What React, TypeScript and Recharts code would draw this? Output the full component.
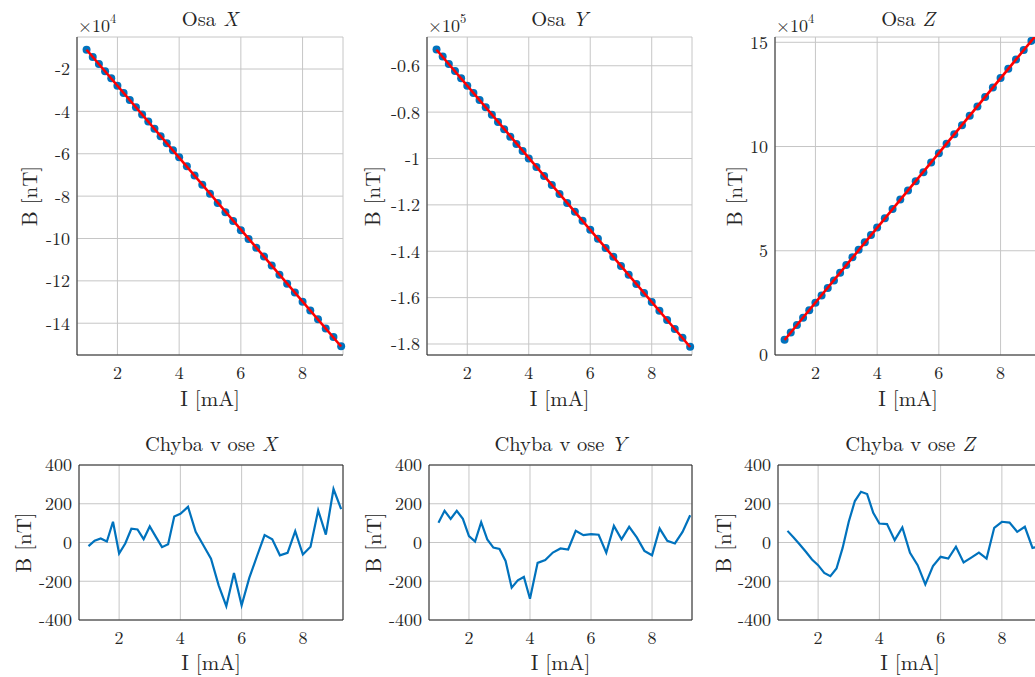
import { CartesianGrid, ComposedChart, Line, LineChart, ReferenceLine, Scatter, XAxis, YAxis } from "recharts";

const MODRA = "#0072BD";
const CERVENA = "#FF0000";
const OSY = "#262626";
const MRIZKA = "#c6c6c6";
const PISMO = "'Latin Modern Roman', 'Liberation Serif', serif";

// proud cievkou [mA]
const proud = [
  1, 1.2, 1.4, 1.6, 1.8, 2, 2.2, 2.4, 2.6, 2.8, 3, 3.2, 3.4, 3.6, 3.8, 4,
  4.25, 4.5, 4.75, 5, 5.25, 5.5, 5.75, 6, 6.25, 6.5, 6.75, 7, 7.25, 7.5, 7.75, 8,
  8.25, 8.5, 8.75, 9, 9.25,
];

// namerane pole [nT]
const mereniX = [
  -10919, -14287, -17671, -21083, -24377, -27937, -31281, -34601, -38001, -41447,
  -44777, -48227, -51676, -55057, -58310, -61692, -65901, -70275, -74589, -78903,
  -83286, -87639, -91712, -96124, -100228, -104361, -108497, -112763, -117091, -121323,
  -125456, -129822, -134027, -138084, -142454, -146464, -150813,
];
const mereniY = [
  -52998, -56044, -59194, -62259, -65409, -68606, -71742, -74750, -77946, -81096,
  -84211, -87381, -90627, -93696, -96787, -100007, -103707, -107578, -111423, -115287,
  -119177, -122966, -126872, -130752, -134640, -138618, -142363, -146318, -150138, -154078,
  -158031, -161939, -165686, -169634, -173532, -177357, -181156,
];
const mereniZ = [
  7260, 10814, 14365, 17915, 21462, 25021, 28568, 32139, 35766, 39460,
  43182, 46877, 50512, 54088, 57578, 61111, 65592, 69993, 74544, 78897,
  83317, 87703, 92281, 96814, 101289, 105834, 110238, 114747, 119257, 123711,
  128354, 132870, 137350, 141786, 146297, 150672, 155164,
];

// linearny fit (koncove body)
const fitProud = [1, 9.25];
const fitX = [-10900, -150985];
const fitY = [-53100, -181297];
const fitZ = [7200, 155184];

// chyba merania voci fitu [nT]
const chybaX = [
  -19, 9, 21, 5, 107, -57, -5, 71, 67, 17, 83, 29, -24, -9, 134, 148, 184, 55, -14, -83,
  -221, -329, -157, -324, -183, -71, 38, 17, -66, -53, 59, -62, -22, 166, 41, 276, 172,
];
const chybaY = [
  102, 164, 122, 164, 122, 33, 5, 105, 16, -26, -33, -95, -233, -195, -178, -290, -105, -91, -52, -31,
  -36, 60, 38, 43, 40, -53, 86, 16, 81, 26, -43, -66, 72, 9, -5, 55, 141,
];
const chybaZ = [
  60, 26, -10, -48, -88, -117, -157, -174, -134, -28, 107, 214, 262, 250, 153, 98, 95, 12, 78, -53,
  -117, -216, -122, -74, -83, -22, -103, -78, -52, -83, 76, 107, 103, 55, 81, -28, -20,
];

const rozsahI = [0.69, 9.31];
const tickyI = [2, 4, 6, 8];
const tickyX = [-140000, -120000, -100000, -80000, -60000, -40000, -20000];
const tickyY = [-180000, -160000, -140000, -120000, -100000, -80000, -60000];
const tickyZ = [0, 50000, 100000, 150000];
const tickyChyba = [-400, -200, 0, 200, 400];

type Ramec = { L: number; T: number; R: number; B: number };
type Bod = { x: number; y: number };

const tickStyl = { fill: OSY, fontSize: 18, fontFamily: PISMO };

function body(xs: number[], ys: number[]) {
  return xs.map((x, i) => ({ x, y: ys[i] }));
}

function format(delitel: number) {
  return (v: number) => String(Number((v / delitel).toFixed(2)));
}

const okraj = { top: 40, right: 10, left: 0, bottom: 0 };
const stredPoloha = (r: Ramec) => ({ position: "absolute" as const, left: r.L - 80, top: r.T - 40 });

function Mereni({ r, data, fit, domena, ticky, delitel }: {
  r: Ramec; data: Bod[]; fit: Bod[]; domena: number[]; ticky: number[]; delitel: number;
}) {
  const w = r.R - r.L + 90;
  const h = r.B - r.T + 100;
  return (
    <>
      <div style={stredPoloha(r)}>
        <ComposedChart width={w} height={h} margin={okraj}>
          <CartesianGrid stroke={MRIZKA} />
          <XAxis type="number" dataKey="x" domain={rozsahI} ticks={tickyI} height={60}
            axisLine={{ stroke: OSY }} tickLine={false} tickSize={0} tickMargin={11} tick={tickStyl} />
          <YAxis type="number" domain={domena} ticks={ticky} width={80} allowDataOverflow
            axisLine={{ stroke: OSY }} tickLine={false} tickSize={0} tickMargin={7} tick={tickStyl}
            tickFormatter={format(delitel)} />
          <Scatter data={data} dataKey="y" fill={MODRA} isAnimationActive={false}
            shape={(p: any) => <circle cx={p.cx} cy={p.cy} r={4} fill={MODRA} />} />
        </ComposedChart>
      </div>
      {/* fit cez body: samostatna vrstva nad znackami, rovnake osi */}
      <div style={stredPoloha(r)}>
        <ComposedChart width={w} height={h} margin={okraj}>
          <XAxis type="number" dataKey="x" domain={rozsahI} ticks={tickyI} height={60} axisLine={false} tickLine={false} tick={false} />
          <YAxis type="number" domain={domena} ticks={ticky} width={80} allowDataOverflow axisLine={false} tickLine={false} tick={false} />
          <Line data={fit} dataKey="y" type="linear" stroke={CERVENA} strokeWidth={2.6} dot={false} isAnimationActive={false} />
        </ComposedChart>
      </div>
    </>
  );
}

function Chyba({ r, data }: { r: Ramec; data: Bod[] }) {
  return (
    <div style={stredPoloha(r)}>
      <LineChart data={data} width={r.R - r.L + 90} height={r.B - r.T + 100} margin={okraj}>
        <CartesianGrid stroke={MRIZKA} />
        <XAxis type="number" dataKey="x" domain={rozsahI} ticks={tickyI} height={60}
          axisLine={{ stroke: OSY }} tickLine={false} tickSize={0} tickMargin={11} tick={tickStyl} />
        <YAxis type="number" domain={[-400, 400]} ticks={tickyChyba} width={80}
          axisLine={{ stroke: OSY }} tickLine={false} tickSize={0} tickMargin={7} tick={tickStyl} />
        <ReferenceLine y={400} stroke={OSY} />
        <ReferenceLine x={rozsahI[1]} stroke={OSY} />
        <Line dataKey="y" type="linear" stroke={MODRA} strokeWidth={2.2} dot={false} isAnimationActive={false} />
      </LineChart>
    </div>
  );
}

const horne: Ramec[] = [
  { L: 77, T: 37, R: 343, B: 355 },
  { L: 427, T: 37, R: 692, B: 355 },
  { L: 775, T: 37, R: 1041, B: 355 },
];
const dolne: Ramec[] = [
  { L: 79, T: 465, R: 343, B: 620 },
  { L: 429, T: 465, R: 692, B: 620 },
  { L: 778, T: 465, R: 1042, B: 620 },
];
const osi = ["X", "Y", "Z"];
const exponenty = ["4", "5", "4"];
const popisYHore = [37, 380, 742];
const popisYDole = [31, 381, 731];

export default function App() {
  const nadpis = { fill: OSY, fontFamily: PISMO, fontSize: 20.5 };
  const popis = { fill: OSY, fontFamily: PISMO, fontSize: 21 };
  return (
    <div style={{ position: "fixed", left: 0, top: 0, width: 1035, height: 677, overflow: "hidden", background: "#fff" }}>
      <Mereni r={horne[0]} data={body(proud, mereniX)} fit={body(fitProud, fitX)} domena={[-155000, -4880]} ticky={tickyX} delitel={1e4} />
      <Mereni r={horne[1]} data={body(proud, mereniY)} fit={body(fitProud, fitY)} domena={[-184750, -47600]} ticky={tickyY} delitel={1e5} />
      <Mereni r={horne[2]} data={body(proud, mereniZ)} fit={body(fitProud, fitZ)} domena={[0, 152540]} ticky={tickyZ} delitel={1e4} />
      <Chyba r={dolne[0]} data={body(proud, chybaX)} />
      <Chyba r={dolne[1]} data={body(proud, chybaY)} />
      <Chyba r={dolne[2]} data={body(proud, chybaZ)} />
      <svg width={1035} height={677} style={{ position: "absolute", left: 0, top: 0, pointerEvents: "none" }}>
        {horne.map((r, i) => {
          const cx = (r.L + r.R) / 2;
          const cy = (r.T + r.B) / 2;
          return (
            <g key={"h" + i}>
              <text {...nadpis} x={cx} y={26} textAnchor="middle">Osa <tspan fontStyle="italic">{osi[i]}</tspan></text>
              <text {...popis} x={cx} y={406} textAnchor="middle">I [mA]</text>
              <text {...popis} x={popisYHore[i]} y={cy} textAnchor="middle" transform={`rotate(-90 ${popisYHore[i]} ${cy})`}>B [nT]</text>
              <text fill={OSY} fontFamily={PISMO} fontSize={18} x={r.L + 1} y={31.5}>
                ×10<tspan dy={-9} fontSize={12.5}>{exponenty[i]}</tspan>
              </text>
            </g>
          );
        })}
        {dolne.map((r, i) => {
          const cx = (r.L + r.R) / 2;
          const cy = (r.T + r.B) / 2;
          return (
            <g key={"d" + i}>
              <text {...nadpis} x={cx} y={451} textAnchor="middle">Chyba v ose <tspan fontStyle="italic">{osi[i]}</tspan></text>
              <text {...popis} x={cx} y={670} textAnchor="middle">I [mA]</text>
              <text {...popis} x={popisYDole[i]} y={cy} textAnchor="middle" transform={`rotate(-90 ${popisYDole[i]} ${cy})`}>B [nT]</text>
            </g>
          );
        })}
      </svg>
    </div>
  );
}
